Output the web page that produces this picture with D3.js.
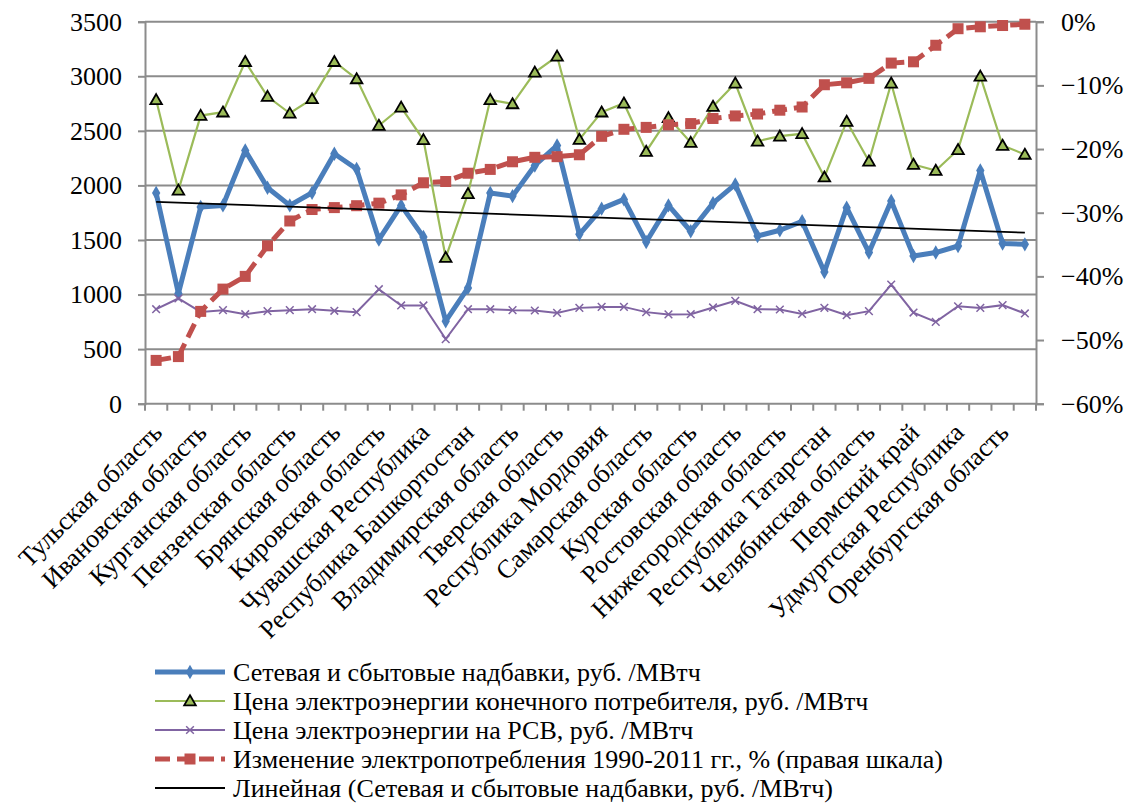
<!DOCTYPE html>
<html>
<head>
<meta charset="utf-8">
<script src="https://cdn.jsdelivr.net/npm/d3@7"></script>
<style>
  html, body { margin: 0; padding: 0; background: #fff; }
  svg { display: block; }
</style>
</head>
<body>
<svg id="chart" width="1129" height="805"></svg>
<script>
// Region names printed under every second category slot
const tickLabels = [
  "Тульская область", "Ивановская область", "Курганская область", "Пензенская область",
  "Брянская область", "Кировская область", "Чувашская Республика", "Республика Башкортостан",
  "Владимирская область", "Тверская область", "Республика Мордовия", "Самарская область",
  "Курская область", "Ростовская область", "Нижегородская область", "Республика Татарстан",
  "Челябинская область", "Пермский край", "Удмуртская Республика", "Оренбургская область"
];
const categoryCount = 40;

// Network and retail mark-ups, rub/MWh
const markup = [
  1930, 1010, 1802, 1817, 2320, 1979, 1817, 1933, 2290, 2150,
  1503, 1817, 1527, 756, 1061, 1930, 1902, 2183, 2366, 1552,
  1787, 1872, 1482, 1817, 1580, 1838, 2009, 1537, 1589, 1671,
  1207, 1796, 1385, 1857, 1354, 1385, 1445, 2137, 1467, 1460
];
// End-consumer electricity price, rub/MWh
const endPrice = [
  2784, 1955, 2640, 2671, 3134, 2814, 2661, 2793, 3134, 2976,
  2549, 2716, 2418, 1339, 1924, 2784, 2747, 3036, 3183, 2421,
  2671, 2753, 2311, 2619, 2393, 2723, 2936, 2405, 2451, 2473,
  2076, 2586, 2222, 2936, 2192, 2137, 2327, 3000, 2366, 2284
];
// Wholesale (RSV) electricity price, rub/MWh
const wholesalePrice = [
  866, 964, 841, 857, 820, 848, 857, 866, 851, 839,
  1049, 900, 900, 592, 866, 866, 857, 854, 832, 878,
  887, 887, 839, 818, 820, 882, 942, 866, 863, 823,
  878, 811, 848, 1092, 835, 750, 893, 878, 903, 827
];
// Change of electricity consumption 1990-2011, % (right scale)
const consumptionChange = [
  -53.2, -52.6, -45.5, -42.0, -40.0, -35.2, -31.3, -29.5, -29.2, -28.9,
  -28.5, -27.2, -25.3, -25.1, -23.8, -23.2, -22.0, -21.3, -21.2, -20.9,
  -18.0, -16.9, -16.6, -16.2, -16.0, -15.2, -14.8, -14.5, -13.9, -13.4,
  -9.9, -9.6, -8.9, -6.5, -6.3, -3.7, -1.1, -0.8, -0.6, -0.4
];

const leftTicks = [0, 500, 1000, 1500, 2000, 2500, 3000, 3500];
const rightTicks = [0, -10, -20, -30, -40, -50, -60];
const legendLabels = [
  "Сетевая и сбытовые надбавки, руб. /МВтч",
  "Цена электроэнергии конечного потребителя, руб. /МВтч",
  "Цена электроэнергии на РСВ, руб. /МВтч",
  "Изменение электропотребления 1990-2011 гг., % (правая шкала)",
  "Линейная (Сетевая и сбытовые надбавки, руб. /МВтч)"
];

const COLORS = { blue: "#4A7EBB", green: "#9BBB59", purple: "#8064A2", red: "#C0504D", grid: "#8C8C8C" };
const FONT = '"Liberation Serif"';
const serifText = sel => sel.style("font-family", FONT).style("font-size", "26px").style("fill", "#000");

const svg = d3.select("#chart");
const plot = { left: 145, right: 1036, top: 21.7, bottom: 403.7 };

const x = d3.scaleBand().domain(d3.range(categoryCount)).range([plot.left, plot.right]);
const cx = i => x(i) + x.bandwidth() / 2;
const yL = d3.scaleLinear().domain([0, 3500]).range([plot.bottom, plot.top]);
const yR = d3.scaleLinear().domain([-60, 0]).range([plot.bottom, plot.top]);

// Horizontal gridlines
svg.append("g").selectAll("line").data(leftTicks).join("line")
  .attr("x1", plot.left).attr("x2", plot.right)
  .attr("y1", d => yL(d)).attr("y2", d => yL(d))
  .attr("stroke", COLORS.grid).attr("stroke-width", 2);

// Left axis
const axL = svg.append("g").attr("transform", `translate(${plot.left},0)`)
  .call(d3.axisLeft(yL).tickValues(leftTicks).tickSize(7).tickPadding(16).tickFormat(d3.format("d")));
axL.select(".domain").attr("stroke", COLORS.grid).attr("stroke-width", 2);
axL.selectAll(".tick line").attr("stroke", COLORS.grid).attr("stroke-width", 2);
axL.selectAll(".tick text").call(serifText);

// Right axis
const axR = svg.append("g").attr("transform", `translate(${plot.right},0)`)
  .call(d3.axisRight(yR).tickValues(rightTicks).tickSize(8).tickPadding(17)
    .tickFormat(d => d === 0 ? "0%" : "\u2212" + Math.abs(d) + "%"));
axR.select(".domain").attr("stroke", COLORS.grid).attr("stroke-width", 2);
axR.selectAll(".tick line").attr("stroke", COLORS.grid).attr("stroke-width", 2);
axR.selectAll(".tick text").call(serifText);

// Bottom axis: ticks on category boundaries
const bounds = d3.range(categoryCount + 1).map(i => i < categoryCount ? x(i) : x(categoryCount - 1) + x.bandwidth());
svg.append("g").selectAll("line").data(bounds).join("line")
  .attr("x1", d => d).attr("x2", d => d)
  .attr("y1", plot.bottom).attr("y2", plot.bottom + 7)
  .attr("stroke", COLORS.grid).attr("stroke-width", 2);

// Category labels (every second slot), rotated
svg.append("g").selectAll("text").data(tickLabels).join("text")
  .attr("transform", (d, k) => `translate(${cx(k * 2) + 1},${plot.bottom + 24}) rotate(-45)`)
  .attr("text-anchor", "end")
  .attr("dy", "0.35em")
  .call(serifText)
  .text(d => d);

// Series
const lineL = d3.line().x((d, i) => cx(i)).y(d => yL(d));
const lineR = d3.line().x((d, i) => cx(i)).y(d => yR(d));

const diamond = d3.symbol().type(d3.symbolDiamond).size(60);
const tri = d3.symbol().type(d3.symbolTriangle).size(58);
const cross = d3.symbol().type(d3.symbolTimes).size(40);

// Network mark-ups
svg.append("path").datum(markup).attr("d", lineL)
  .attr("fill", "none").attr("stroke", COLORS.blue).attr("stroke-width", 5).attr("stroke-linejoin", "round");
svg.append("g").selectAll("path").data(markup).join("path")
  .attr("transform", (d, i) => `translate(${cx(i)},${yL(d)})`)
  .attr("d", diamond).attr("fill", COLORS.blue);

// End-consumer price
svg.append("path").datum(endPrice).attr("d", lineL)
  .attr("fill", "none").attr("stroke", COLORS.green).attr("stroke-width", 2.2);
svg.append("g").selectAll("path").data(endPrice).join("path")
  .attr("transform", (d, i) => `translate(${cx(i)},${yL(d) + 1})`)
  .attr("d", tri).attr("fill", COLORS.green).attr("stroke", "#000").attr("stroke-width", 1.8);

// Wholesale price
svg.append("path").datum(wholesalePrice).attr("d", lineL)
  .attr("fill", "none").attr("stroke", COLORS.purple).attr("stroke-width", 2);
svg.append("g").selectAll("path").data(wholesalePrice).join("path")
  .attr("transform", (d, i) => `translate(${cx(i)},${yL(d)})`)
  .attr("d", cross).attr("fill", "none").attr("stroke", COLORS.purple).attr("stroke-width", 1.5);

// Consumption change (right scale)
svg.append("path").datum(consumptionChange).attr("d", lineR)
  .attr("fill", "none").attr("stroke", COLORS.red).attr("stroke-width", 5)
  .attr("stroke-dasharray", "15,7");
svg.append("g").selectAll("rect").data(consumptionChange).join("rect")
  .attr("x", (d, i) => cx(i) - 5.5).attr("y", d => yR(d) - 5.5)
  .attr("width", 11).attr("height", 11).attr("fill", COLORS.red);

// Linear trend of the mark-ups (least squares on category number)
const n = markup.length;
const xs = d3.range(1, n + 1);
const mx = d3.mean(xs), my = d3.mean(markup);
const slope = d3.sum(xs, (v, i) => (v - mx) * (markup[i] - my)) / d3.sum(xs, v => (v - mx) ** 2);
const intercept = my - slope * mx;
svg.append("line")
  .attr("x1", cx(0)).attr("y1", yL(intercept + slope * 1))
  .attr("x2", cx(n - 1)).attr("y2", yL(intercept + slope * n))
  .attr("stroke", "#000").attr("stroke-width", 1.8);

// Legend
const lg = svg.append("g").attr("transform", "translate(155,672)");
const rowH = 29;
const rows = lg.selectAll("g").data(legendLabels).join("g")
  .attr("transform", (d, i) => `translate(0,${i * rowH})`);
rows.append("text").attr("x", 78).attr("dy", "0.35em").call(serifText).text(d => d);

const sample = (i, stroke, w, dash) => lg.append("line")
  .attr("x1", 0).attr("x2", 70).attr("y1", i * rowH).attr("y2", i * rowH)
  .attr("stroke", stroke).attr("stroke-width", w).attr("stroke-dasharray", dash || null);
sample(0, COLORS.blue, 5);
lg.append("path").attr("transform", "translate(35,0)").attr("d", diamond).attr("fill", COLORS.blue);
sample(1, COLORS.green, 2.2);
lg.append("path").attr("transform", `translate(35,${rowH + 1})`).attr("d", tri)
  .attr("fill", COLORS.green).attr("stroke", "#000").attr("stroke-width", 1.8);
sample(2, COLORS.purple, 2);
lg.append("path").attr("transform", `translate(35,${rowH * 2})`).attr("d", cross)
  .attr("fill", "none").attr("stroke", COLORS.purple).attr("stroke-width", 1.5);
sample(3, COLORS.red, 5, "15,7");
lg.append("rect").attr("x", 29.5).attr("y", rowH * 3 - 5.5).attr("width", 11).attr("height", 11).attr("fill", COLORS.red);
sample(4, "#000", 1.8);
</script>
</body>
</html>
